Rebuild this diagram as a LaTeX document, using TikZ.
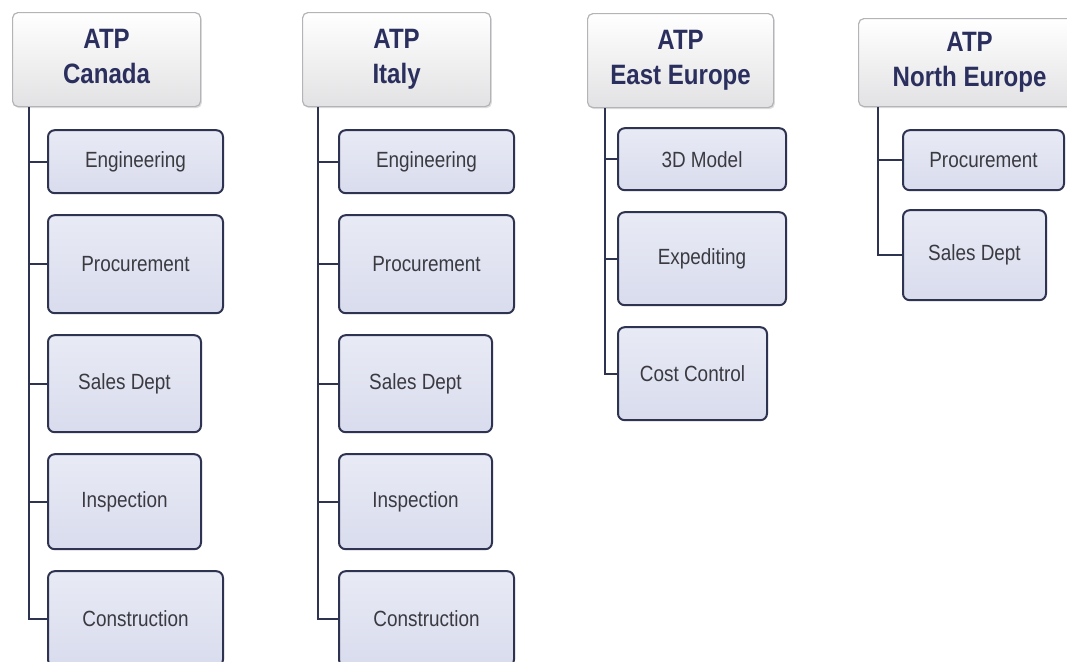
\documentclass[tikz,border=0pt]{standalone}
\usepackage{fontspec}
\setmainfont{Liberation Sans}[FakeStretch=0.86]
\usepackage{tikz}
\usetikzlibrary{positioning, shadows}
\definecolor{linknavy}{HTML}{2F3352}
\definecolor{depttop}{HTML}{E8EAF5}
\definecolor{deptbot}{HTML}{D9DCED}
\definecolor{officeline}{HTML}{B4B4B8}
\definecolor{officebot}{HTML}{E2E2E4}
\definecolor{officetext}{HTML}{2B2F5E}
\definecolor{depttext}{HTML}{3A3A40}
\tikzset{office/.style={draw=officeline,line width=0.9pt,rounded corners=4pt,top color=white,bottom color=officebot,drop shadow={opacity=0.25,shadow xshift=1pt,shadow yshift=-1.2pt},align=center,inner sep=0pt,anchor=north west,text=officetext,font=\bfseries\fontsize{21}{26}\selectfont,execute at end node={\vphantom{y}}}}
\tikzset{dept/.style={draw=linknavy,line width=1.5pt,rounded corners=5pt,top color=depttop,bottom color=deptbot,inner sep=0pt,text=depttext,font=\fontsize{16.5}{19}\selectfont}}
\tikzset{link/.style={draw=linknavy,line width=1.8pt}}

\begin{document}
\begin{tikzpicture}[x=0.75pt,y=-0.75pt,node distance=15pt]
    \useasboundingbox (0,0) rectangle (1067,661);

    % ATP Canada
    \node[office,minimum width=141pt,minimum height=70.5pt](can) at (12,12){ATP\\Canada};
    \node[dept,minimum width=131.25pt,minimum height=47.25pt,below=16.5pt of can.south west,anchor=north west,xshift=26.25pt](can1){Engineering};
    \node[dept,minimum width=131.25pt,minimum height=73.5pt,below=of can1.south west,anchor=north west](can2){Procurement};
    \node[dept,minimum width=114.75pt,minimum height=72.75pt,below=of can2.south west,anchor=north west](can3){Sales Dept};
    \node[dept,minimum width=114.75pt,minimum height=71.25pt,below=of can3.south west,anchor=north west](can4){Inspection};
    \node[dept,minimum width=131.25pt,minimum height=71.25pt,below=of can4.south west,anchor=north west](can5){Construction};
    \coordinate (canT) at ([xshift=12.75pt]can.south west);
    \foreach \i in {1,...,5} \draw[link] (canT) |- (can\i.west);

    % ATP Italy
    \node[office,minimum width=141pt,minimum height=70.5pt](ita) at (302,12){ATP\\Italy};
    \node[dept,minimum width=131.25pt,minimum height=47.25pt,below=16.5pt of ita.south west,anchor=north west,xshift=27pt](ita1){Engineering};
    \node[dept,minimum width=131.25pt,minimum height=73.5pt,below=of ita1.south west,anchor=north west](ita2){Procurement};
    \node[dept,minimum width=114.75pt,minimum height=72.75pt,below=of ita2.south west,anchor=north west](ita3){Sales Dept};
    \node[dept,minimum width=114.75pt,minimum height=71.25pt,below=of ita3.south west,anchor=north west](ita4){Inspection};
    \node[dept,minimum width=131.25pt,minimum height=71.25pt,below=of ita4.south west,anchor=north west](ita5){Construction};
    \coordinate (itaT) at ([xshift=12pt]ita.south west);
    \foreach \i in {1,...,5} \draw[link] (itaT) |- (ita\i.west);

    % ATP East Europe
    \node[office,minimum width=139.5pt,minimum height=70.5pt](eeu) at (587,13){ATP\\East Europe};
    \node[dept,minimum width=126pt,minimum height=46.5pt,below=14.25pt of eeu.south west,anchor=north west,xshift=22.5pt](eeu1){3D Model};
    \node[dept,minimum width=126pt,minimum height=69.75pt,below=of eeu1.south west,anchor=north west](eeu2){Expediting};
    \node[dept,minimum width=111.75pt,minimum height=69.75pt,below=of eeu2.south west,anchor=north west](eeu3){Cost Control};
    \coordinate (eeuT) at ([xshift=13.5pt]eeu.south west);
    \foreach \i in {1,...,3} \draw[link] (eeuT) |- (eeu\i.west);

    % ATP North Europe
    \node[office,minimum width=166.5pt,minimum height=66pt](neu) at (858,18){ATP\\North Europe};
    \node[dept,minimum width=120.75pt,minimum height=45pt,below=16.5pt of neu.south west,anchor=north west,xshift=33pt](neu1){Procurement};
    \node[dept,minimum width=107.25pt,minimum height=67.5pt,below=13.5pt of neu1.south west,anchor=north west](neu2){Sales Dept};
    \coordinate (neuT) at ([xshift=15pt]neu.south west);
    \foreach \i in {1,2} \draw[link] (neuT) |- (neu\i.west);

\end{tikzpicture}
\end{document}
